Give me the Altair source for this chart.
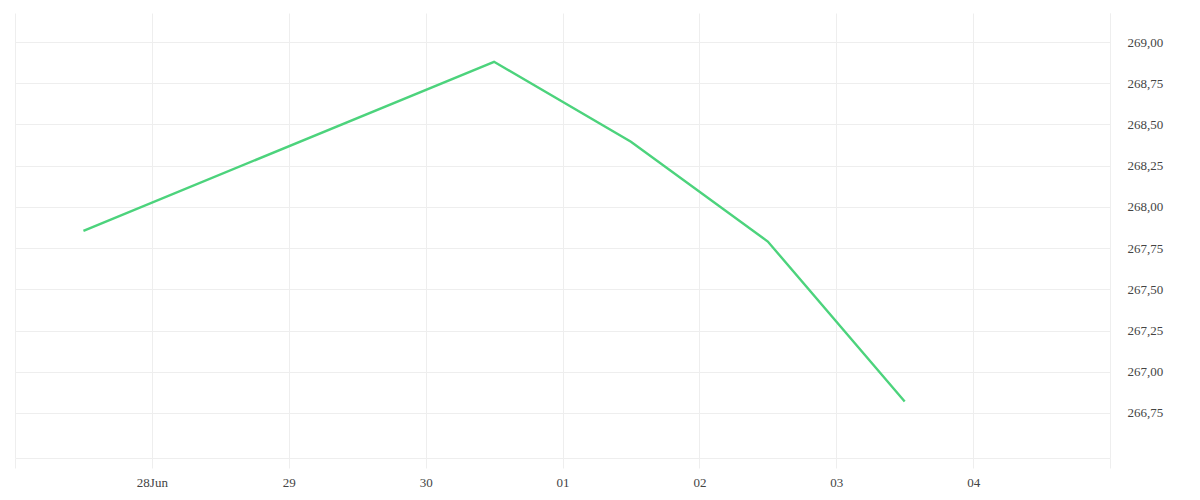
import altair as alt
import pandas as pd

dates = ["2025-06-27T12:00:00Z", "2025-06-30T12:00:00Z", "2025-07-01T12:00:00Z",
         "2025-07-02T12:00:00Z", "2025-07-03T12:00:00Z"]
values = [267.855, 268.88, 268.395, 267.79, 266.82]
tick_days = ["2025-06-27", "2025-06-28", "2025-06-29", "2025-06-30", "2025-07-01",
             "2025-07-02", "2025-07-03", "2025-07-04", "2025-07-05"]
y_ticks = [266.75, 267.0, 267.25, 267.5, 267.75, 268.0, 268.25, 268.5, 268.75, 269.0]

df = pd.DataFrame({"date": dates, "value": values})
tick_ms = [int(pd.Timestamp(d, tz="UTC").timestamp() * 1000) for d in tick_days]

font = "Liberation Serif"

chart = alt.Chart(df).mark_line(color="#4cd37c", strokeWidth=2.4).encode(
    x=alt.X("date:T",
            scale=alt.Scale(type="utc", domain=[tick_ms[0], tick_ms[-1]], nice=False),
            axis=alt.Axis(values=tick_ms, title=None, grid=True, gridColor="#eeeeee",
                          domainColor="#eeeeee", tickColor="#eeeeee", tickSize=10,
                          labelPadding=8, labelColor="#444444", labelFont=font,
                          labelFontSize=13,
                          labelExpr="utcdate(datum.value) == 27 || utcdate(datum.value) == 5 ? '' : (utcdate(datum.value) == 28 ? utcFormat(datum.value, '%d%b') : utcFormat(datum.value, '%d'))")),
    y=alt.Y("value:Q",
            scale=alt.Scale(domain=[266.477, 269.176], nice=False, zero=False),
            axis=alt.Axis(orient="right", values=y_ticks, title=None, grid=True,
                          gridColor="#eeeeee", domainColor="#eeeeee", tickSize=0,
                          labelPadding=17, labelColor="#444444", labelFont=font,
                          labelFontSize=13,
                          labelExpr="replace(format(datum.value, '.2f'), '.', ',')")),
).properties(
    width=1095, height=445,
    autosize=alt.AutoSizeParams(type="none"),
    padding={"left": 7, "top": 5, "right": 70, "bottom": 40},
    background="white",
).configure_view(stroke=None)

chart.save("out.html", embed_options={"renderer": "svg", "actions": False})
